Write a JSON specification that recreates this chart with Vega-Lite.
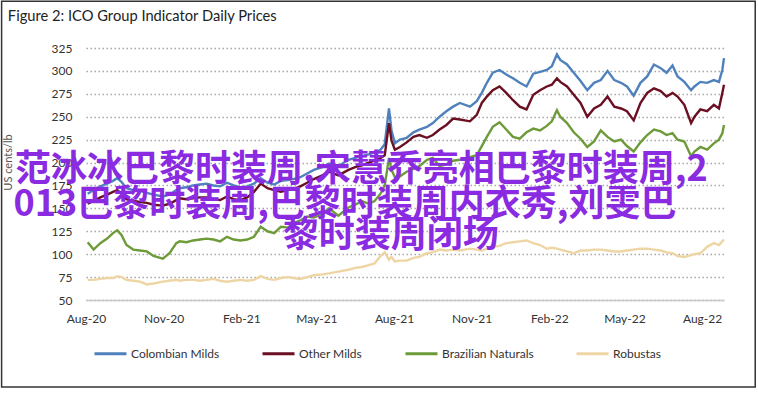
{
  "$schema": "https://vega.github.io/schema/vega-lite/v6.json",
  "width": 638,
  "height": 252,
  "autosize": "none",
  "padding": {"left": 86, "top": 48, "right": 34, "bottom": 93},
  "background": "white",
  "title": {"text": "Figure 2: ICO Group Indicator Daily Prices", "anchor": "start", "frame": "bounds", "dx": 7, "offset": -23, "font": "Lato", "fontSize": 14.7, "fontWeight": "normal", "color": "#222222"},
  "datasets": {
    "prices": [
      {"date": "2020-08-03", "Colombian Milds": 166, "Other Milds": 155, "Brazilian Naturals": 113, "Robustas": 72},
      {"date": "2020-08-10", "Colombian Milds": 170, "Other Milds": 158, "Brazilian Naturals": 105, "Robustas": 72},
      {"date": "2020-08-18", "Colombian Milds": 174, "Other Milds": 162, "Brazilian Naturals": 112, "Robustas": 73},
      {"date": "2020-08-26", "Colombian Milds": 177, "Other Milds": 165, "Brazilian Naturals": 117, "Robustas": 74},
      {"date": "2020-09-02", "Colombian Milds": 180, "Other Milds": 168, "Brazilian Naturals": 123, "Robustas": 74},
      {"date": "2020-09-07", "Colombian Milds": 183, "Other Milds": 170, "Brazilian Naturals": 126, "Robustas": 76},
      {"date": "2020-09-12", "Colombian Milds": 179, "Other Milds": 166, "Brazilian Naturals": 121, "Robustas": 75},
      {"date": "2020-09-18", "Colombian Milds": 172, "Other Milds": 160, "Brazilian Naturals": 110, "Robustas": 72},
      {"date": "2020-09-26", "Colombian Milds": 170, "Other Milds": 158, "Brazilian Naturals": 105, "Robustas": 71},
      {"date": "2020-10-04", "Colombian Milds": 169, "Other Milds": 157, "Brazilian Naturals": 104, "Robustas": 70},
      {"date": "2020-10-12", "Colombian Milds": 167, "Other Milds": 156, "Brazilian Naturals": 103, "Robustas": 67},
      {"date": "2020-10-20", "Colombian Milds": 165, "Other Milds": 154, "Brazilian Naturals": 98, "Robustas": 68},
      {"date": "2020-10-31", "Colombian Milds": 163, "Other Milds": 153, "Brazilian Naturals": 95, "Robustas": 70},
      {"date": "2020-11-08", "Colombian Milds": 165, "Other Milds": 155, "Brazilian Naturals": 101, "Robustas": 71},
      {"date": "2020-11-16", "Colombian Milds": 170, "Other Milds": 159, "Brazilian Naturals": 112, "Robustas": 72},
      {"date": "2020-11-20", "Colombian Milds": 172, "Other Milds": 161, "Brazilian Naturals": 114, "Robustas": 71},
      {"date": "2020-11-28", "Colombian Milds": 173, "Other Milds": 160, "Brazilian Naturals": 113, "Robustas": 72},
      {"date": "2020-12-06", "Colombian Milds": 175, "Other Milds": 161, "Brazilian Naturals": 115, "Robustas": 72},
      {"date": "2020-12-14", "Colombian Milds": 176, "Other Milds": 162, "Brazilian Naturals": 116, "Robustas": 71},
      {"date": "2020-12-22", "Colombian Milds": 177, "Other Milds": 162, "Brazilian Naturals": 117, "Robustas": 72},
      {"date": "2020-12-30", "Colombian Milds": 175, "Other Milds": 160, "Brazilian Naturals": 116, "Robustas": 73},
      {"date": "2021-01-07", "Colombian Milds": 174, "Other Milds": 159, "Brazilian Naturals": 114, "Robustas": 71},
      {"date": "2021-01-15", "Colombian Milds": 178, "Other Milds": 163, "Brazilian Naturals": 119, "Robustas": 70},
      {"date": "2021-01-23", "Colombian Milds": 175, "Other Milds": 160, "Brazilian Naturals": 116, "Robustas": 71},
      {"date": "2021-01-31", "Colombian Milds": 173, "Other Milds": 159, "Brazilian Naturals": 115, "Robustas": 72},
      {"date": "2021-02-08", "Colombian Milds": 174, "Other Milds": 162, "Brazilian Naturals": 116, "Robustas": 71},
      {"date": "2021-02-16", "Colombian Milds": 177, "Other Milds": 168, "Brazilian Naturals": 119, "Robustas": 72},
      {"date": "2021-02-24", "Colombian Milds": 183, "Other Milds": 177, "Brazilian Naturals": 130, "Robustas": 76},
      {"date": "2021-03-04", "Colombian Milds": 178, "Other Milds": 172, "Brazilian Naturals": 125, "Robustas": 73},
      {"date": "2021-03-12", "Colombian Milds": 176, "Other Milds": 170, "Brazilian Naturals": 123, "Robustas": 72},
      {"date": "2021-03-20", "Colombian Milds": 180, "Other Milds": 168, "Brazilian Naturals": 130, "Robustas": 74},
      {"date": "2021-03-28", "Colombian Milds": 181, "Other Milds": 170, "Brazilian Naturals": 129, "Robustas": 75},
      {"date": "2021-04-04", "Colombian Milds": 182, "Other Milds": 171, "Brazilian Naturals": 134, "Robustas": 74},
      {"date": "2021-04-12", "Colombian Milds": 184, "Other Milds": 174, "Brazilian Naturals": 137, "Robustas": 73},
      {"date": "2021-04-20", "Colombian Milds": 188, "Other Milds": 178, "Brazilian Naturals": 141, "Robustas": 75},
      {"date": "2021-04-28", "Colombian Milds": 192, "Other Milds": 182, "Brazilian Naturals": 140, "Robustas": 77},
      {"date": "2021-05-08", "Colombian Milds": 195, "Other Milds": 186, "Brazilian Naturals": 144, "Robustas": 78},
      {"date": "2021-05-16", "Colombian Milds": 199, "Other Milds": 190, "Brazilian Naturals": 150, "Robustas": 79},
      {"date": "2021-05-27", "Colombian Milds": 196, "Other Milds": 186, "Brazilian Naturals": 142, "Robustas": 81},
      {"date": "2021-06-08", "Colombian Milds": 203, "Other Milds": 192, "Brazilian Naturals": 151, "Robustas": 83},
      {"date": "2021-06-16", "Colombian Milds": 205, "Other Milds": 195, "Brazilian Naturals": 154, "Robustas": 85},
      {"date": "2021-06-24", "Colombian Milds": 207, "Other Milds": 197, "Brazilian Naturals": 158, "Robustas": 86},
      {"date": "2021-07-02", "Colombian Milds": 209, "Other Milds": 200, "Brazilian Naturals": 155, "Robustas": 88},
      {"date": "2021-07-09", "Colombian Milds": 211, "Other Milds": 202, "Brazilian Naturals": 158, "Robustas": 90},
      {"date": "2021-07-16", "Colombian Milds": 214, "Other Milds": 205, "Brazilian Naturals": 166, "Robustas": 98},
      {"date": "2021-07-21", "Colombian Milds": 220, "Other Milds": 208, "Brazilian Naturals": 175, "Robustas": 102},
      {"date": "2021-07-26", "Colombian Milds": 259, "Other Milds": 243, "Brazilian Naturals": 205, "Robustas": 94},
      {"date": "2021-07-29", "Colombian Milds": 235, "Other Milds": 224, "Brazilian Naturals": 192, "Robustas": 97},
      {"date": "2021-08-02", "Colombian Milds": 221, "Other Milds": 214, "Brazilian Naturals": 184, "Robustas": 92},
      {"date": "2021-08-08", "Colombian Milds": 225, "Other Milds": 217, "Brazilian Naturals": 185, "Robustas": 93},
      {"date": "2021-08-16", "Colombian Milds": 227, "Other Milds": 222, "Brazilian Naturals": 190, "Robustas": 93},
      {"date": "2021-08-24", "Colombian Milds": 233, "Other Milds": 228, "Brazilian Naturals": 193, "Robustas": 96},
      {"date": "2021-08-31", "Colombian Milds": 236, "Other Milds": 230, "Brazilian Naturals": 196, "Robustas": 97},
      {"date": "2021-09-09", "Colombian Milds": 239, "Other Milds": 227, "Brazilian Naturals": 203, "Robustas": 101},
      {"date": "2021-09-16", "Colombian Milds": 243, "Other Milds": 230, "Brazilian Naturals": 205, "Robustas": 102},
      {"date": "2021-09-24", "Colombian Milds": 250, "Other Milds": 236, "Brazilian Naturals": 196, "Robustas": 105},
      {"date": "2021-10-02", "Colombian Milds": 256, "Other Milds": 241, "Brazilian Naturals": 198, "Robustas": 104},
      {"date": "2021-10-10", "Colombian Milds": 261, "Other Milds": 248, "Brazilian Naturals": 202, "Robustas": 105},
      {"date": "2021-10-18", "Colombian Milds": 265, "Other Milds": 247, "Brazilian Naturals": 203, "Robustas": 104},
      {"date": "2021-10-30", "Colombian Milds": 261, "Other Milds": 245, "Brazilian Naturals": 206, "Robustas": 106},
      {"date": "2021-11-07", "Colombian Milds": 267, "Other Milds": 252, "Brazilian Naturals": 208, "Robustas": 105},
      {"date": "2021-11-13", "Colombian Milds": 276, "Other Milds": 265, "Brazilian Naturals": 218, "Robustas": 104},
      {"date": "2021-11-19", "Colombian Milds": 287, "Other Milds": 272, "Brazilian Naturals": 228, "Robustas": 106},
      {"date": "2021-11-26", "Colombian Milds": 298, "Other Milds": 279, "Brazilian Naturals": 239, "Robustas": 108},
      {"date": "2021-12-04", "Colombian Milds": 301, "Other Milds": 283, "Brazilian Naturals": 244, "Robustas": 109},
      {"date": "2021-12-12", "Colombian Milds": 296, "Other Milds": 276, "Brazilian Naturals": 236, "Robustas": 112},
      {"date": "2021-12-20", "Colombian Milds": 292, "Other Milds": 268, "Brazilian Naturals": 228, "Robustas": 113},
      {"date": "2021-12-28", "Colombian Milds": 287, "Other Milds": 261, "Brazilian Naturals": 226, "Robustas": 114},
      {"date": "2022-01-05", "Colombian Milds": 283, "Other Milds": 258, "Brazilian Naturals": 233, "Robustas": 115},
      {"date": "2022-01-13", "Colombian Milds": 297, "Other Milds": 274, "Brazilian Naturals": 237, "Robustas": 112},
      {"date": "2022-01-21", "Colombian Milds": 299, "Other Milds": 279, "Brazilian Naturals": 235, "Robustas": 110},
      {"date": "2022-01-29", "Colombian Milds": 301, "Other Milds": 283, "Brazilian Naturals": 240, "Robustas": 106},
      {"date": "2022-02-04", "Colombian Milds": 305, "Other Milds": 285, "Brazilian Naturals": 245, "Robustas": 107},
      {"date": "2022-02-10", "Colombian Milds": 318, "Other Milds": 292, "Brazilian Naturals": 257, "Robustas": 106},
      {"date": "2022-02-14", "Colombian Milds": 312, "Other Milds": 288, "Brazilian Naturals": 250, "Robustas": 105},
      {"date": "2022-02-22", "Colombian Milds": 307, "Other Milds": 283, "Brazilian Naturals": 243, "Robustas": 103},
      {"date": "2022-03-02", "Colombian Milds": 298, "Other Milds": 274, "Brazilian Naturals": 233, "Robustas": 101},
      {"date": "2022-03-10", "Colombian Milds": 289, "Other Milds": 265, "Brazilian Naturals": 226, "Robustas": 104},
      {"date": "2022-03-18", "Colombian Milds": 279, "Other Milds": 250, "Brazilian Naturals": 217, "Robustas": 104},
      {"date": "2022-03-26", "Colombian Milds": 287, "Other Milds": 259, "Brazilian Naturals": 223, "Robustas": 105},
      {"date": "2022-04-03", "Colombian Milds": 290, "Other Milds": 263, "Brazilian Naturals": 235, "Robustas": 105},
      {"date": "2022-04-11", "Colombian Milds": 300, "Other Milds": 272, "Brazilian Naturals": 228, "Robustas": 104},
      {"date": "2022-04-19", "Colombian Milds": 290, "Other Milds": 261, "Brazilian Naturals": 223, "Robustas": 103},
      {"date": "2022-04-27", "Colombian Milds": 287, "Other Milds": 259, "Brazilian Naturals": 225, "Robustas": 103},
      {"date": "2022-05-04", "Colombian Milds": 283, "Other Milds": 256, "Brazilian Naturals": 218, "Robustas": 104},
      {"date": "2022-05-12", "Colombian Milds": 273, "Other Milds": 246, "Brazilian Naturals": 212, "Robustas": 105},
      {"date": "2022-05-20", "Colombian Milds": 287, "Other Milds": 265, "Brazilian Naturals": 222, "Robustas": 106},
      {"date": "2022-05-28", "Colombian Milds": 294, "Other Milds": 276, "Brazilian Naturals": 230, "Robustas": 106},
      {"date": "2022-06-05", "Colombian Milds": 307, "Other Milds": 281, "Brazilian Naturals": 236, "Robustas": 105},
      {"date": "2022-06-13", "Colombian Milds": 303, "Other Milds": 278, "Brazilian Naturals": 234, "Robustas": 104},
      {"date": "2022-06-20", "Colombian Milds": 298, "Other Milds": 272, "Brazilian Naturals": 230, "Robustas": 102},
      {"date": "2022-06-27", "Colombian Milds": 306, "Other Milds": 276, "Brazilian Naturals": 232, "Robustas": 101},
      {"date": "2022-07-03", "Colombian Milds": 294, "Other Milds": 272, "Brazilian Naturals": 225, "Robustas": 98},
      {"date": "2022-07-11", "Colombian Milds": 288, "Other Milds": 263, "Brazilian Naturals": 223, "Robustas": 97},
      {"date": "2022-07-19", "Colombian Milds": 279, "Other Milds": 243, "Brazilian Naturals": 207, "Robustas": 99},
      {"date": "2022-07-23", "Colombian Milds": 283, "Other Milds": 250, "Brazilian Naturals": 212, "Robustas": 100},
      {"date": "2022-07-30", "Colombian Milds": 288, "Other Milds": 258, "Brazilian Naturals": 217, "Robustas": 101},
      {"date": "2022-08-07", "Colombian Milds": 287, "Other Milds": 256, "Brazilian Naturals": 214, "Robustas": 108},
      {"date": "2022-08-15", "Colombian Milds": 290, "Other Milds": 263, "Brazilian Naturals": 221, "Robustas": 112},
      {"date": "2022-08-21", "Colombian Milds": 288, "Other Milds": 259, "Brazilian Naturals": 225, "Robustas": 110},
      {"date": "2022-08-25", "Colombian Milds": 301, "Other Milds": 276, "Brazilian Naturals": 232, "Robustas": 114},
      {"date": "2022-08-27", "Colombian Milds": 314, "Other Milds": 285, "Brazilian Naturals": 241, "Robustas": 116}
    ],
    "overlay": [
      {"date": "2020-05-09", "price": 192, "label": "范冰冰巴黎时装周,宋慧乔亮相巴黎时装周,2"},
      {"date": "2020-05-07", "price": 154, "label": "013巴黎时装周,巴黎时装周内衣秀,刘雯巴"},
      {"date": "2021-03-22", "price": 120, "label": "黎时装周闭场"}
    ],
    "frame": [
      {"date": "2020-04-23", "price": 376, "date_end": "2022-10-03", "price_end": -45}
    ]
  },
  "encoding": {
    "x": {
      "field": "date", "type": "temporal", "title": null,
      "scale": {"type": "utc", "domain": [{"year": 2020, "month": 8, "date": 1, "utc": true}, {"year": 2022, "month": 8, "date": 27, "utc": true}]},
      "axis": {
        "values": [
          {"year": 2020, "month": 8, "date": 1, "utc": true},
          {"year": 2020, "month": 11, "date": 1, "utc": true},
          {"year": 2021, "month": 2, "date": 1, "utc": true},
          {"year": 2021, "month": 5, "date": 1, "utc": true},
          {"year": 2021, "month": 8, "date": 1, "utc": true},
          {"year": 2021, "month": 11, "date": 1, "utc": true},
          {"year": 2022, "month": 2, "date": 1, "utc": true},
          {"year": 2022, "month": 5, "date": 1, "utc": true},
          {"year": 2022, "month": 8, "date": 1, "utc": true}
        ],
        "format": "%b-%y", "ticks": false, "grid": false, "domain": true, "domainColor": "#c8c8c8", "domainWidth": 1.5,
        "labelFont": "Lato", "labelFontSize": 12, "labelColor": "#333333", "labelPadding": 13, "labelOverlap": false, "labelFlush": false
      }
    },
    "y": {
      "field": "price", "type": "quantitative", "title": "US cents/lb",
      "scale": {"domain": [50, 325], "nice": false, "zero": false},
      "axis": {
        "values": [50, 75, 100, 125, 150, 175, 200, 225, 250, 275, 300, 325],
        "ticks": false, "domain": false, "grid": true, "gridDash": [1.5, 2.5], "gridColor": "#a8a8a8", "gridWidth": 1.5,
        "labelFont": "Lato", "labelFontSize": 12, "labelColor": "#333333", "labelPadding": 14, "labelOverlap": false,
        "titleFont": "Lato", "titleFontSize": 11, "titleFontWeight": "normal", "titleColor": "#555555", "titleX": -73, "titleY": 114
      }
    }
  },
  "layer": [
    {
      "data": {"name": "frame"},
      "mark": {"type": "rect", "filled": false, "stroke": "#333333", "strokeWidth": 1.5, "clip": false},
      "encoding": {
        "x2": {"field": "date_end"},
        "y2": {"field": "price_end"}
      }
    },
    {
      "data": {"name": "prices"},
      "transform": [{"fold": ["Colombian Milds", "Other Milds", "Brazilian Naturals", "Robustas"], "as": ["series", "price"]}],
      "mark": {"type": "line", "strokeWidth": 2.4, "clip": false},
      "encoding": {
        "color": {
          "field": "series", "type": "nominal",
          "scale": {"domain": ["Colombian Milds", "Other Milds", "Brazilian Naturals", "Robustas"], "range": ["#4f81bd", "#6b0f22", "#6e9b3a", "#eed5a4"]},
          "legend": {
            "orient": "none", "legendX": 7, "legendY": 288, "direction": "horizontal", "title": null, "padding": 0,
            "symbolType": "stroke", "symbolSize": 1024, "symbolStrokeWidth": 3,
            "labelFont": "Lato", "labelFontSize": 12, "labelColor": "#333333", "labelOffset": 3, "columnPadding": 36
          }
        }
      }
    },
    {
      "data": {"name": "overlay"},
      "mark": {"type": "text", "align": "left", "baseline": "middle", "font": "Noto Sans CJK SC", "fontSize": 36, "fontWeight": "bold", "color": "#8a2be2", "clip": false},
      "encoding": {
        "text": {"field": "label"}
      }
    }
  ],
  "config": {"view": {"stroke": null}}
}
